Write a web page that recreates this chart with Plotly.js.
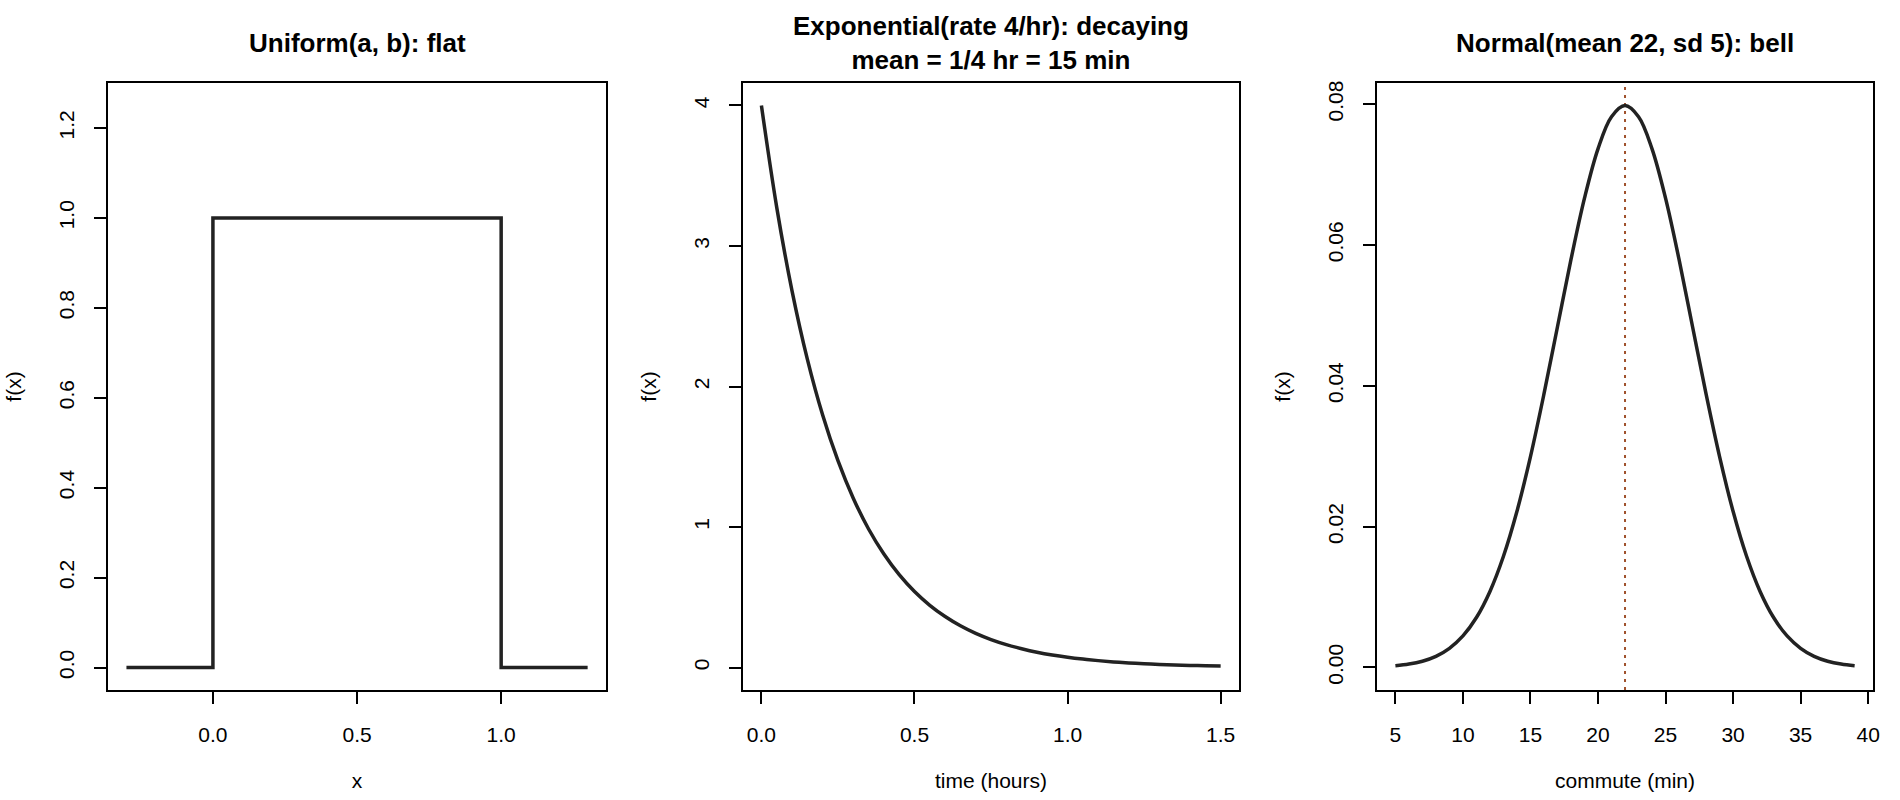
<!DOCTYPE html>
<html>
<head>
<meta charset="utf-8">
<script src="https://cdn.plot.ly/plotly-3.0.1.min.js"></script>
<style>
  html, body { margin: 0; padding: 0; background: #fff; }
  #graph { width: 1900px; height: 800px; }
</style>
</head>
<body>
<div id="graph"></div>
<script>
// Uniform(0, 1) drawn as a step outline from -0.3 to 1.3
var uniformX = [-0.3, 0, 0, 1, 1, 1.3];
var uniformY = [0, 0, 1, 1, 0, 0];

// Exponential, rate 4/hr, read every 0.05 hr
var expX = [0, 0.05, 0.1, 0.15, 0.2, 0.25, 0.3, 0.35, 0.4, 0.45, 0.5,
            0.55, 0.6, 0.65, 0.7, 0.75, 0.8, 0.85, 0.9, 0.95, 1.0,
            1.05, 1.1, 1.15, 1.2, 1.25, 1.3, 1.35, 1.4, 1.45, 1.5];
var expY = [4.000, 3.275, 2.681, 2.195, 1.797, 1.472, 1.205, 0.986, 0.808, 0.661, 0.541,
            0.443, 0.363, 0.297, 0.243, 0.199, 0.163, 0.134, 0.109, 0.089, 0.073,
            0.060, 0.049, 0.040, 0.033, 0.027, 0.022, 0.018, 0.015, 0.012, 0.010];

// Normal, mean 22, sd 5, commute minutes 5..39
var normX = [5, 6, 7, 8, 9, 10, 11, 12, 13, 14, 15, 16, 17, 18, 19, 20, 21, 22,
             23, 24, 25, 26, 27, 28, 29, 30, 31, 32, 33, 34, 35, 36, 37, 38, 39];
var normY = [0.00025, 0.00048, 0.00089, 0.00158, 0.00272, 0.00448, 0.00709, 0.01080,
             0.01579, 0.02218, 0.02995, 0.03884, 0.04839, 0.05794, 0.06664, 0.07365,
             0.07821, 0.07979,
             0.07821, 0.07365, 0.06664, 0.05794, 0.04839, 0.03884, 0.02995, 0.02218,
             0.01579, 0.01080, 0.00709, 0.00448, 0.00272, 0.00158, 0.00089, 0.00048, 0.00025];
var normMean = 22;

// tick values per panel
var uniXTicks = [0, 0.5, 1];
var uniYTicks = [0, 0.2, 0.4, 0.6, 0.8, 1.0, 1.2];
var expXTicks = [0, 0.5, 1, 1.5];
var expYTicks = [0, 1, 2, 3, 4];
var normXTicks = [5, 10, 15, 20, 25, 30, 35, 40];
var normYTicks = [0, 0.02, 0.04, 0.06, 0.08];

var panelTitles = ['Uniform(a, b): flat',
                   'Exponential(rate 4/hr): decaying<br>mean = 1/4 hr = 15 min',
                   'Normal(mean 22, sd 5): bell'];
var xTitles = ['x', 'time (hours)', 'commute (min)'];
var yTitle = 'f(x)';

var FONT = 'Liberation Sans, Arial, sans-serif';
var curveLine = {color: '#222222', width: 3.5};

var data = [
    {x: uniformX, y: uniformY, xaxis: 'x', yaxis: 'y', mode: 'lines', line: curveLine},
    {x: expX, y: expY, xaxis: 'x2', yaxis: 'y2', mode: 'lines', line: Object.assign({shape: 'spline'}, curveLine)},
    {x: normX, y: normY, xaxis: 'x3', yaxis: 'y3', mode: 'lines', line: Object.assign({shape: 'spline'}, curveLine)}
];

/**
 * Builds an R-style axis: boxed, outside ticks, fixed range.
 */
function makeAxis(range, ticks, fmt, domain, anchor, titleText, isY) {
    var ax = {
        domain: domain,
        anchor: anchor,
        range: range,
        autorange: false,
        tickmode: 'array',
        tickvals: ticks,
        tickformat: fmt,
        ticks: 'outside',
        ticklen: 12,
        tickwidth: 2,
        tickcolor: '#000',
        showline: true,
        linecolor: '#000',
        linewidth: 2,
        mirror: true,
        showgrid: false,
        zeroline: false,
        automargin: false,
        tickfont: {family: FONT, size: 21, color: '#000'},
        ticklabelstandoff: isY ? 12 : 13,
        title: {text: titleText, font: {family: FONT, size: 21, color: '#000'}, standoff: isY ? 27 : 28}
    };
    if (isY) ax.tickangle = -90;
    return ax;
}

var dom1 = [0, 0.2822], dom2 = [0.3598, 0.6408], dom3 = [0.7190, 1];

var layout = {
    width: 1900,
    height: 800,
    showlegend: false,
    paper_bgcolor: '#fff',
    plot_bgcolor: '#fff',
    margin: {l: 108, r: 27, t: 83, b: 110},
    xaxis:  makeAxis([-0.364, 1.364], uniXTicks, '.1f', dom1, 'y', xTitles[0], false),
    yaxis:  makeAxis([-0.05, 1.30], uniYTicks, '.1f', [0, 1], 'x', yTitle, true),
    xaxis2: makeAxis([-0.06, 1.56], expXTicks, '.1f', dom2, 'y2', xTitles[1], false),
    yaxis2: makeAxis([-0.16, 4.16], expYTicks, 'd', [0, 1], 'x2', yTitle, true),
    xaxis3: makeAxis([3.64, 40.36], normXTicks, 'd', dom3, 'y3', xTitles[2], false),
    yaxis3: makeAxis([-0.0032, 0.0830], normYTicks, '.2f', [0, 1], 'x3', yTitle, true),
    shapes: [{
        type: 'line', xref: 'x3', yref: 'y3 domain',
        x0: normMean, x1: normMean, y0: 0, y1: 1,
        line: {color: '#A0522D', width: 2, dash: '3px,5px'},
        layer: 'below'
    }],
    annotations: [dom1, dom2, dom3].map(function(d, i) {
        return {
            text: '<b>' + panelTitles[i] + '</b>',
            xref: 'paper', yref: 'paper',
            x: (d[0] + d[1]) / 2, y: 1 + 40 / 607,
            xanchor: 'center', yanchor: 'middle',
            showarrow: false,
            font: {family: FONT, size: 26, color: '#000'}
        };
    })
};

var graph = document.getElementById('graph');
Plotly.newPlot(graph, data, layout, {staticPlot: true});
</script>
</body>
</html>
